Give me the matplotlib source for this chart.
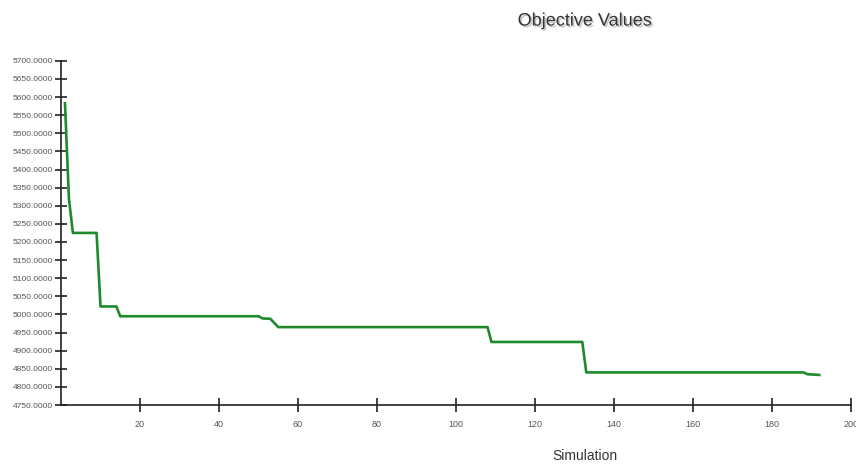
import matplotlib
matplotlib.use("Agg")
import matplotlib.pyplot as plt
import matplotlib.patheffects as pe
from matplotlib.ticker import FormatStrFormatter

# Data: simulation index at change points and objective value
simulations = [1, 2, 3, 9, 10, 14, 15, 50, 51, 53, 55, 108, 109, 132, 133, 188, 189, 192]
objective = [5583, 5320, 5225, 5225, 5022, 5022, 4995, 4995, 4989, 4988, 4965,
             4965, 4924, 4924, 4840, 4840, 4835, 4833]
x_ticks = [20, 40, 60, 80, 100, 120, 140, 160, 180, 200]
y_ticks = list(range(4750, 5701, 50))

plt.rcParams["font.family"] = ["Liberation Sans", "DejaVu Sans"]

fig = plt.figure(figsize=(8.56, 4.68), dpi=100)
ax = fig.add_axes([0.0713, 0.1346, 0.9227, 0.7354])

ax.plot(simulations, objective, color="#1f8a2c", lw=1.9, solid_joinstyle="round")

ax.set_xlim(0, 200)
ax.set_ylim(4750, 5700)
ax.set_xticks(x_ticks)
ax.set_yticks(y_ticks)
ax.yaxis.set_major_formatter(FormatStrFormatter("%.4f"))

for s in ["top", "right"]:
    ax.spines[s].set_visible(False)
for s in ["left", "bottom"]:
    ax.spines[s].set_color("#222222")
    ax.spines[s].set_linewidth(1.2)

ax.tick_params(axis="y", direction="inout", length=8, width=1.2, color="#222222",
               labelsize=6, labelcolor="#555555", pad=2)
ax.tick_params(axis="x", direction="inout", length=10, width=1.2, color="#222222",
               labelsize=6.5, labelcolor="#555555", pad=6)

fig.text(0.683, 0.955, "Objective Values", ha="center", va="center",
         fontsize=13, color="#333333",
         path_effects=[pe.withSimplePatchShadow(offset=(1.2, -1.2), shadow_rgbFace="#999999", alpha=0.6)])
fig.text(0.683, 0.026, "Simulation", ha="center", va="center",
         fontsize=10, color="#333333")

fig.savefig("out.png", dpi=100)
